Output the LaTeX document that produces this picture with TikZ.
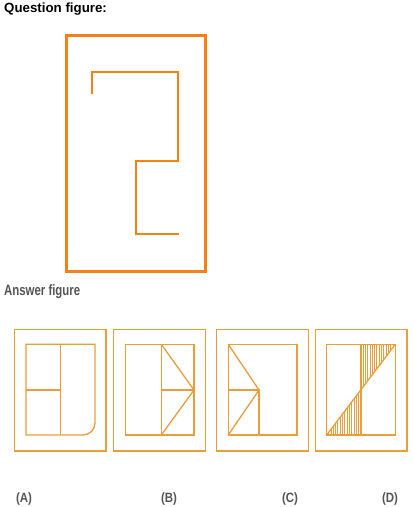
\documentclass[tikz,border=0pt]{standalone}
\usepackage{fontspec}
\setmainfont{Liberation Sans}
\newfontfamily\condA[FakeStretch=0.76]{Liberation Sans}
\newfontfamily\condB[FakeStretch=0.85]{Liberation Sans}
\definecolor{qorange}{RGB}{242,130,20}
\definecolor{aorange}{RGB}{234,158,58}
\definecolor{labgray}{RGB}{85,85,85}
\tikzset{
  qframe/.style={draw=qorange, line width=3pt},
  qline/.style={draw=qorange, line width=2pt},
  aframe/.style={draw=aorange, line width=1.5pt},
  aline/.style={draw=aorange, line width=1.3pt},
  hatch/.style={draw=aorange, line width=0.8pt},
  heading/.style={inner sep=0pt, anchor=base west},
  optlabel/.style={inner sep=0pt, anchor=base, text=labgray, font=\condB\bfseries\fontsize{13.5}{15}\selectfont}
}
\begin{document}
\begin{tikzpicture}[x=1pt,y=-1pt]
\useasboundingbox (0,0) rectangle (413,507);
\fill[white] (0,0) rectangle (413,507);
% headings
\node[heading, font=\bfseries\fontsize{13.3}{15}\selectfont] (qtitle) at (4,12.9) {Question figure:};
\node[heading, text=labgray, font=\condA\bfseries\fontsize{15}{17}\selectfont] (atitle) at (4,295.7) {Answer figure};
% question figure
\draw[qframe] (66.3,35.3) rectangle (205.7,271);
\draw[qline] (92.3,94.3) -- (92.3,72.3) -- (178.3,72.3) -- (178.3,161.3) -- (135.7,161.3) -- (135.7,234) -- (179.3,234);
% (A)
\draw[aframe] (14.3,329.3) rectangle (106,451);
\draw[aline] (26,344.3) -- (95,344.3) -- (95,423) arc[start angle=0,end angle=90,radius=12] -- (26,435) -- cycle;
\draw[aline] (60.3,344.3) -- (60.3,435);
\draw[aline] (26,390) -- (60.3,390);
% (B)
\draw[aframe] (113.7,329.3) rectangle (205.3,451);
\draw[aline] (125.3,344.3) rectangle (194,435);
\draw[aline] (161.3,344.3) -- (161.3,435);
\draw[aline] (161.3,390) -- (194,390);
\draw[aline] (161.3,344.3) -- (194,390) -- (161.3,435);
% (C)
\draw[aframe] (216.7,329.3) rectangle (308.3,451);
\draw[aline] (228.3,344.3) rectangle (297,435);
\draw[aline] (228.3,344.3) -- (259,390) -- (228.3,435);
\draw[aline] (228.3,390) -- (259,390) -- (259,435);
% (D)
\draw[aframe] (315.3,329.3) rectangle (407,451);
\foreach \x in {363,365.3,...,394.5} {
  \draw[hatch] (\x,344.3) -- (\x,{435-(\x-326.7)*1.3222});
}
\foreach \x in {328.6,330.9,...,360} {
  \draw[hatch] (\x,{435-(\x-326.7)*1.3222}) -- (\x,435);
}
\draw[aline] (326.7,344.3) rectangle (395.3,435);
\draw[aline] (361,344.3) -- (361,435);
\draw[aline] (326.7,435) -- (395.3,344.3);
% option labels
\node[optlabel] (la) at (24,502) {(A)};
\node[optlabel] (lb) at (169,502) {(B)};
\node[optlabel] (lc) at (290,502) {(C)};
\node[optlabel] (ld) at (390,502) {(D)};
\end{tikzpicture}
\end{document}
